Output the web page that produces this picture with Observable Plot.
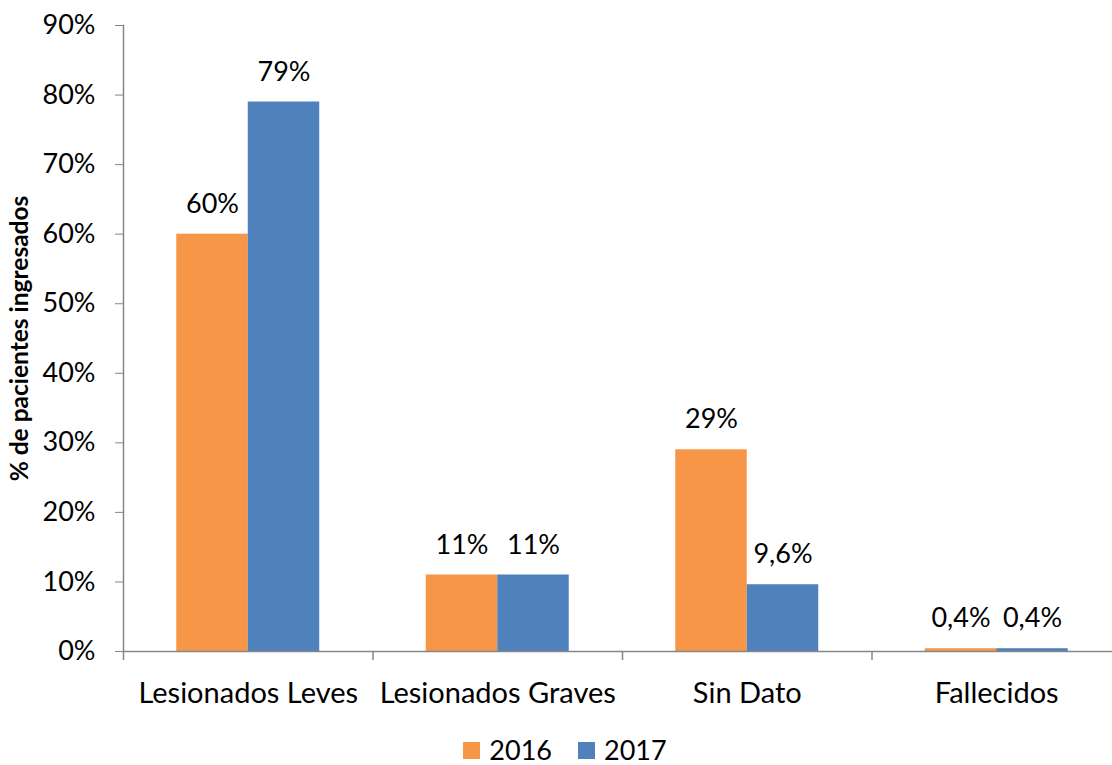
<!DOCTYPE html>
<html>
<head>
<meta charset="utf-8">
<script src="https://cdn.jsdelivr.net/npm/d3@7"></script>
<script src="https://cdn.jsdelivr.net/npm/@observablehq/plot@0.6"></script>
<style>
  body { margin: 0; background: #fff; font-family: Lato, "Open Sans", sans-serif; overflow: hidden; }
  #chart svg { display: block; }
  #legend { display: flex; justify-content: center; align-items: center; height: 30px; line-height: 30px; padding-left: 18px; font-size: 27px; color: #000; }
  #legend .item { display: flex; align-items: center; margin: 0 13px; }
  #legend .swatch { width: 17px; height: 17px; margin-right: 9px; }
</style>
</head>
<body>
<div id="chart"></div>
<div id="legend"></div>
<script>
// Share of admitted patients by outcome, 2016 vs 2017 (percent)
const categories = ["Lesionados Leves", "Lesionados Graves", "Sin Dato", "Fallecidos"];
const years = ["2016", "2017"];
const values2016 = [60, 11, 29, 0.4];
const values2017 = [79, 11, 9.6, 0.4];
const yTicks = [0, 10, 20, 30, 40, 50, 60, 70, 80, 90];
const colors = ["#F79646", "#4F81BD"];
const yTitle = "% de pacientes ingresados";

const rows = categories.flatMap((c, i) => [
  {category: c, year: years[0], value: values2016[i]},
  {category: c, year: years[1], value: values2017[i]}
]);
const fmt = v => String(v).replace(".", ",") + "%";
const axisGrey = "#868686";

const chart = Plot.plot({
  width: 1112,
  height: 735,
  marginTop: 25,
  marginBottom: 84,
  marginLeft: 123,
  marginRight: 0,
  style: {fontFamily: "Lato, 'Open Sans', sans-serif", fontSize: "27px", color: "#000", background: "#fff"},
  fx: {domain: categories, range: [123, 1121], padding: 0, round: false, label: null, axis: null},
  x: {domain: years, paddingInner: 0, paddingOuter: 0.745, align: 0.5, round: false, axis: null},
  y: {domain: [0, 90], axis: null},
  color: {domain: years, range: colors},
  marks: [
    Plot.barY(rows, {fx: "category", x: "year", y: "value", fill: "year"}),
    Plot.text(rows, {fx: "category", x: "year", y: "value", text: d => fmt(d.value), dy: -30, lineAnchor: "middle", fill: "#000"}),
    Plot.ruleY([0], {stroke: axisGrey, strokeWidth: 1.5}),
    Plot.frame({anchor: "left", facetAnchor: "left", stroke: axisGrey, strokeWidth: 1.5}),
    Plot.axisY(yTicks, {tickSize: 8, tickPadding: 20, tickFormat: d => d + "%", stroke: axisGrey, label: null}),
    Plot.axisFx({anchor: "bottom", tickSize: 0, tickPadding: 31, fontSize: 29, label: null}),
    Plot.axisFx({anchor: "bottom", tickSize: 9, tickFormat: () => "", dx: -124.75, stroke: axisGrey, strokeWidth: 1.5, label: null}),
    Plot.text([{category: categories[0], t: yTitle}], {fx: "category", text: "t", frameAnchor: "left", textAnchor: "middle", rotate: -90, dx: -103, fontWeight: "bold", fontSize: 24.5, fill: "#000"})
  ]
});
document.getElementById("chart").appendChild(chart);

const legend = d3.select("#legend");
years.forEach((y, i) => {
  const item = legend.append("div").attr("class", "item");
  item.append("div").attr("class", "swatch").style("background", colors[i]);
  item.append("span").text(y);
});
</script>
</body>
</html>
